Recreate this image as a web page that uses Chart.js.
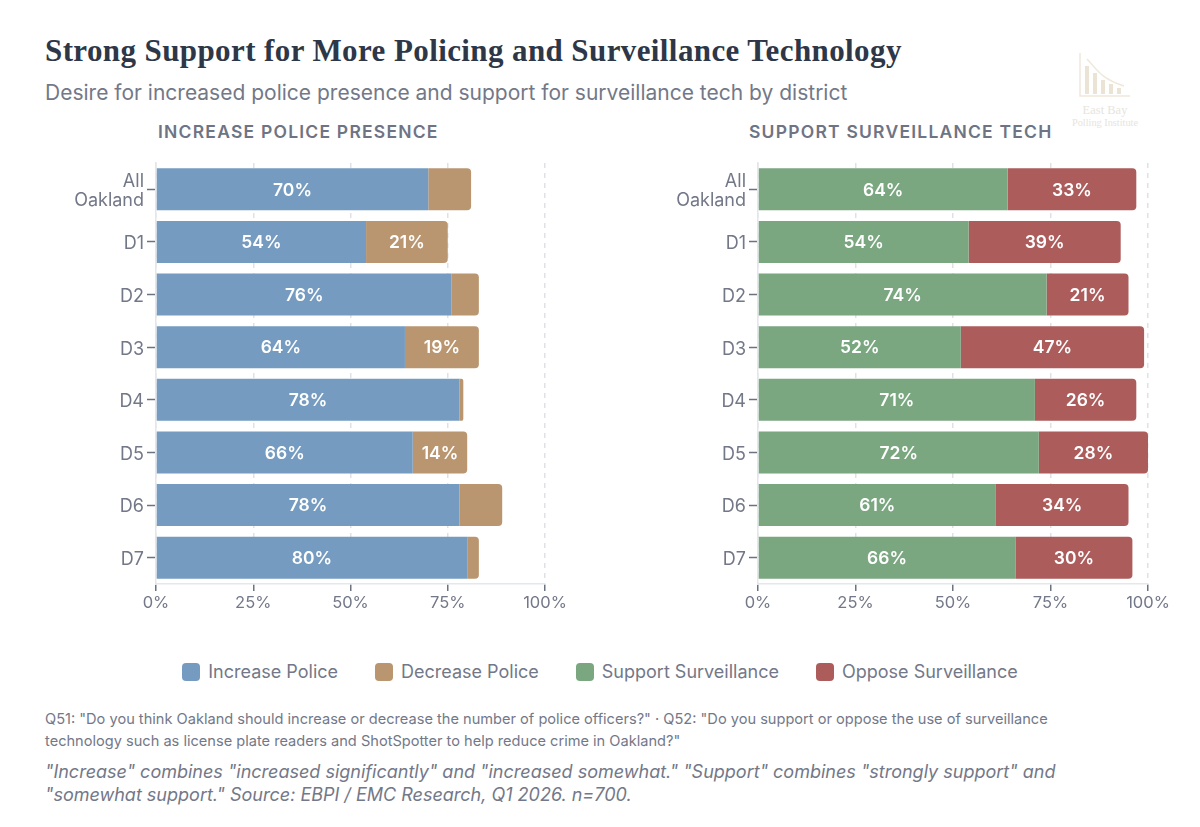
<!DOCTYPE html>
<html>
<head>
<meta charset="utf-8">
<script src="https://cdn.jsdelivr.net/npm/chart.js@4"></script>
<style>
    html, body { margin: 0; padding: 0; background: #fff; }
    body { width: 1200px; height: 827px; position: relative; overflow: hidden; font-family: Inter, sans-serif; }
    .abs { position: absolute; white-space: nowrap; }
    #title { left: 45px; top: 32px; font: bold 31px "Liberation Serif", serif; letter-spacing: 0.4px; color: #2d3748; line-height: 38px; }
    #subtitle { left: 45px; top: 79px; font-size: 21px; line-height: 28px; color: #737888; }
    .panel-title { top: 120px; font-size: 17.5px; line-height: 24px; font-weight: 600; letter-spacing: 1.22px; color: #6f7484; }
    .chart-box { position: absolute; top: 150px; width: 540px; height: 470px; }
    #legend { left: 0; width: 1200px; top: 660px; display: flex; justify-content: center; gap: 37px; font-size: 18px; line-height: 24px; color: #737888; }
    #legend span.item { display: flex; align-items: center; }
    #legend i { width: 18px; height: 18px; border-radius: 4px; margin-right: 8px; display: block; }
    #note { left: 45px; top: 708px; font-size: 14.6px; line-height: 22px; color: #737888; }
    #source { left: 45px; top: 760px; font-size: 18px; line-height: 23px; font-style: italic; color: #737888; }
    #logo { left: 1070px; top: 51px; width: 70px; height: 80px; text-align: center; }
    #logo svg { display: block; margin: 0 auto; }
    #logo div { font-family: "Liberation Serif", serif; color: #e8e4de; white-space: nowrap; }
</style>
</head>
<body>
<div class="abs" id="title">Strong Support for More Policing and Surveillance Technology</div>
<div class="abs" id="subtitle">Desire for increased police presence and support for surveillance tech by district</div>
<div class="abs" id="logo">
    <svg width="54" height="48" viewBox="0 0 54 48">
        <path d="M2 2V45H52" fill="none" stroke="#efe8da" stroke-width="1.5"/>
        <path d="M9 8C20 20 24 28 46 35" fill="none" stroke="#efe8da" stroke-width="1.5"/>
        <g fill="#ebe3d3">
            <rect x="7" y="15" width="4" height="28"/><rect x="15" y="22" width="4" height="21"/>
            <rect x="23" y="29" width="4" height="14"/><rect x="31" y="33" width="4" height="10"/>
            <rect x="39" y="37" width="4" height="6"/>
        </g>
    </svg>
    <div style="font-size:12.5px;line-height:14px;margin-top:4px">East Bay</div>
    <div style="font-size:10.3px;line-height:11px;margin-left:-5px;margin-right:-5px">Polling Institute</div>
</div>
<div class="abs panel-title" style="left:158px">INCREASE POLICE PRESENCE</div>
<div class="abs panel-title" style="left:749px">SUPPORT SURVEILLANCE TECH</div>
<div class="chart-box" style="left:40px"><canvas id="policeChart"></canvas></div>
<div class="chart-box" style="left:642px;width:541px"><canvas id="surveillanceChart"></canvas></div>
<div class="abs" id="legend"></div>
<div class="abs" id="note">Q51: "Do you think Oakland should increase or decrease the number of police officers?" · Q52: "Do you support or oppose the use of surveillance<br>technology such as license plate readers and ShotSpotter to help reduce crime in Oakland?"</div>
<div class="abs" id="source">"Increase" combines "increased significantly" and "increased somewhat." "Support" combines "strongly support" and<br>"somewhat support." Source: EBPI / EMC Research, Q1 2026. n=700.</div>

<script>
const districts = [['All', 'Oakland'], 'D1', 'D2', 'D3', 'D4', 'D5', 'D6', 'D7'];
const increasePolice = [70, 54, 76, 64, 78, 66, 78, 80];
const decreasePolice = [11, 21, 7, 19, 1, 14, 11, 3];
const supportSurveillance = [64, 54, 74, 52, 71, 72, 61, 66];
const opposeSurveillance = [33, 39, 21, 47, 26, 28, 34, 30];
const xTicks = [0, 25, 50, 75, 100];

const BLUE = '#759cc0', TAN = '#ba9670', GREEN = '#7aa680', RED = '#ad5c5c';
const LABEL_MIN = 12;
const TEXT = '#737888';

const barLabels = {
    id: 'barLabels',
    afterDatasetsDraw(chart) {
        const ctx = chart.ctx;
        ctx.save();
        ctx.font = '600 17.5px Inter, sans-serif';
        ctx.fillStyle = '#fff';
        ctx.textAlign = 'center';
        ctx.textBaseline = 'middle';
        chart.data.datasets.forEach((ds, i) => {
            chart.getDatasetMeta(i).data.forEach((bar, j) => {
                if (ds.data[j] < LABEL_MIN) return;
                ctx.fillText(ds.data[j] + '%', (bar.x + bar.base) / 2, bar.y + 1);
            });
        });
        ctx.restore();
    }
};

function drawPanel(id, first, second) {
    const rightEnd = { topRight: 4, bottomRight: 4 };
    new Chart(document.getElementById(id), {
        type: 'bar',
        data: {
            labels: districts,
            datasets: [
                { label: first.label, data: first.data, backgroundColor: first.color, borderSkipped: false, categoryPercentage: 0.8, barPercentage: 1 },
                { label: second.label, data: second.data, backgroundColor: second.color, borderRadius: rightEnd, borderSkipped: false, categoryPercentage: 0.8, barPercentage: 1 }
            ]
        },
        options: {
            indexAxis: 'y',
            responsive: true,
            maintainAspectRatio: false,
            animation: false,
            layout: { padding: { top: 13, right: 35, left: 0, bottom: 0 } },
            plugins: { legend: { display: false }, tooltip: { enabled: false } },
            scales: {
                x: {
                    stacked: true,
                    min: 0,
                    max: 100,
                    afterBuildTicks: scale => { scale.ticks = xTicks.map(v => ({ value: v })); },
                    afterFit: scale => { scale.height = 36; },
                    border: { color: '#e5e7eb', width: 1.5, dash: [5, 5] },
                    grid: { color: '#dfe1e6', lineWidth: 1.5, tickColor: '#6b7280', tickWidth: 1.5, tickLength: 7 },
                    ticks: { color: TEXT, font: { size: 16.5, family: 'Inter' }, padding: 2, maxRotation: 0, callback: v => v + '%' }
                },
                y: {
                    stacked: true,
                    afterFit: scale => { scale.width = 116; },
                    border: { color: '#e3e6eb', width: 1.5 },
                    grid: { offset: false, drawOnChartArea: false, tickColor: '#6b7280', tickWidth: 1.5, tickLength: 9 },
                    ticks: { color: TEXT, font: { size: 18, family: 'Inter', lineHeight: 1.05 }, padding: 3, labelOffset: 2 }
                }
            }
        },
        plugins: [barLabels]
    });
}

const legendItems = [
    ['Increase Police', BLUE], ['Decrease Police', TAN],
    ['Support Surveillance', GREEN], ['Oppose Surveillance', RED]
];

document.addEventListener('DOMContentLoaded', function() {
    document.getElementById('legend').innerHTML = legendItems.map(item =>
        `<span class="item"><i style="background:${item[1]}"></i>${item[0]}</span>`).join('');
    drawPanel('policeChart',
        { label: 'Increase Police', data: increasePolice, color: BLUE },
        { label: 'Decrease Police', data: decreasePolice, color: TAN });
    drawPanel('surveillanceChart',
        { label: 'Support Surveillance', data: supportSurveillance, color: GREEN },
        { label: 'Oppose Surveillance', data: opposeSurveillance, color: RED });
});
</script>
</body>
</html>
